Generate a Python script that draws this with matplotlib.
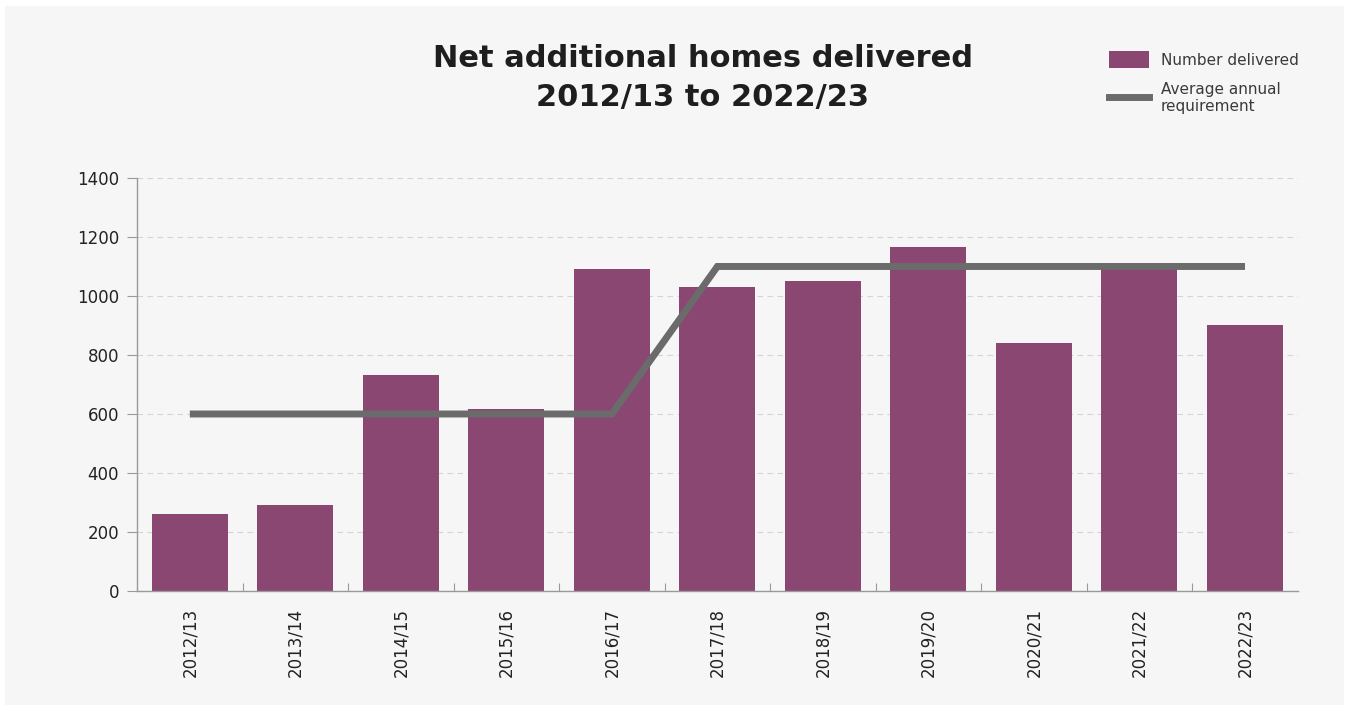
"""Net additional homes delivered per year against the average annual requirement."""

import matplotlib.pyplot as plt
from matplotlib.lines import Line2D
from matplotlib.patches import Patch, Rectangle

YEARS = [
    "2012/13", "2013/14", "2014/15", "2015/16", "2016/17", "2017/18",
    "2018/19", "2019/20", "2020/21", "2021/22", "2022/23",
]
DELIVERED = [262, 290, 732, 618, 1092, 1032, 1052, 1166, 840, 1105, 903]
REQUIREMENT = [600, 600, 600, 600, 600, 1100, 1100, 1100, 1100, 1100, 1100]

BAR_COLOR = "#8a4771"
LINE_COLOR = "#6b6b6b"
BG_COLOR = "#f6f6f6"

fig = plt.figure(figsize=(13.49, 7.09), dpi=100, facecolor="white")
fig.patches.append(
    Rectangle((0.004, 0.006), 0.992, 0.986, transform=fig.transFigure,
              facecolor=BG_COLOR, edgecolor="none", zorder=-10)
)

ax = fig.add_axes([0.1016, 0.1664, 0.8604, 0.5826])
ax.set_facecolor(BG_COLOR)

x = range(len(YEARS))
ax.bar(x, DELIVERED, width=0.72, color=BAR_COLOR, zorder=2)
ax.plot(x, REQUIREMENT, color=LINE_COLOR, linewidth=5,
        solid_capstyle="butt", solid_joinstyle="miter", zorder=3)

ax.set_xlim(-0.5, len(YEARS) - 0.5)
ax.set_ylim(0, 1400)
ax.set_yticks(range(0, 1401, 200))
ax.set_xticks(list(x))
ax.set_xticklabels(YEARS, rotation=90, fontsize=12, color="#222222")
ax.tick_params(axis="x", length=0, pad=12)
ax.set_xticks([i - 0.5 for i in range(1, len(YEARS))], minor=True)
ax.tick_params(axis="x", which="minor", direction="in", length=6,
               color="#9a9a9a", width=0.8)
ax.tick_params(axis="y", labelsize=12, labelcolor="#222222", length=7,
               color="#9a9a9a", width=0.8, pad=6)

ax.grid(axis="y", color="#d4d4d4", linestyle=(0, (5, 4)), linewidth=0.8,
        zorder=0)
for side in ("top", "right"):
    ax.spines[side].set_visible(False)
for side in ("left", "bottom"):
    ax.spines[side].set_color("#9a9a9a")
    ax.spines[side].set_linewidth(1.0)

fig.text(0.521, 0.89, "Net additional homes delivered\n2012/13 to 2022/23",
         ha="center", va="center", fontsize=22, fontweight="bold",
         color="#1e1e1e", linespacing=1.45)

handles = [
    Patch(facecolor=BAR_COLOR, edgecolor="none"),
    Line2D([0], [0], color=LINE_COLOR, linewidth=5),
]
fig.legend(handles, ["Number delivered", "Average annual\nrequirement"],
           loc="upper left", bbox_to_anchor=(0.812, 0.948), frameon=False,
           fontsize=11, handlelength=2.6, handleheight=1.4,
           labelspacing=0.9, handletextpad=0.8, labelcolor="#3a3a3a")

fig.savefig("out.png", dpi=100, facecolor=fig.get_facecolor())
